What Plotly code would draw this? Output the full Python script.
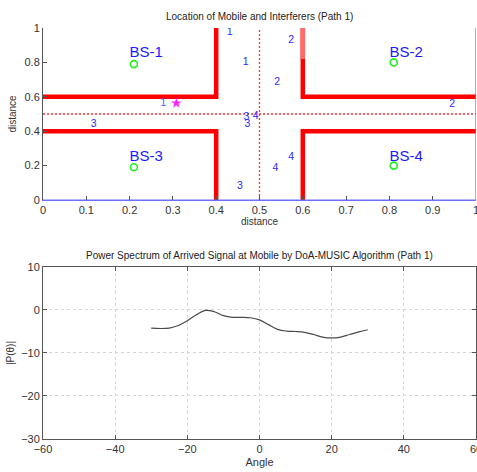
import plotly.graph_objects as go

# ---- Data: top plot (street layout) ----
wall_segments = [
    ([0, 0.4, 0.4], [0.6, 0.6, 1.0]),
    ([0, 0.4, 0.4], [0.4, 0.4, 0.0]),
    ([0.6, 0.6, 1.0], [1.0, 0.6, 0.6]),
    ([0.6, 0.6, 1.0], [0.0, 0.4, 0.4]),
]
faded_wall = ([0.6, 0.6], [0.82, 1.0])
center_x = 0.5
center_y = 0.5

bs_names = ["BS-1", "BS-2", "BS-3", "BS-4"]
bs_x = [0.21, 0.81, 0.21, 0.81]
bs_y = [0.79, 0.80, 0.19, 0.20]
bs_label_x = [0.20, 0.80, 0.20, 0.80]
bs_label_y = [0.855, 0.855, 0.25, 0.25]

mobile_x = [0.308]
mobile_y = [0.563]
mobile_label = ["1"]
mobile_label_x = [0.278]

intf_labels = ["1", "1", "2", "2", "2", "3", "3", "3", "4", "3", "4", "4"]
intf_x = [0.431, 0.468, 0.573, 0.541, 0.945, 0.117, 0.470, 0.472, 0.491, 0.455, 0.573, 0.537]
intf_y = [0.977, 0.800, 0.930, 0.686, 0.558, 0.442, 0.482, 0.440, 0.486, 0.081, 0.250, 0.186]

# ---- Data: bottom plot (MUSIC spectrum) ----
angles = [-30, -27.5, -25, -22.5, -20, -17.5, -15, -12.5, -10, -7.5, -5, -2.5,
          0, 2.5, 5, 7.5, 10, 12.5, 15, 17.5, 20, 22.5, 25, 27.5, 30]
power = [-4.2, -4.3, -4.2, -3.6, -2.5, -1.1, -0.1, -0.4, -1.3, -1.7, -1.7, -1.8,
         -2.3, -3.4, -4.5, -4.9, -5.0, -5.2, -5.7, -6.3, -6.5, -6.3, -5.7, -5.1, -4.6]

fig = go.Figure()

# walls
for wx, wy in wall_segments:
    fig.add_trace(go.Scatter(x=wx, y=wy, mode="lines", line=dict(color="#ff0000", width=4.5),
                             xaxis="x", yaxis="y", showlegend=False, hoverinfo="skip"))
fig.add_trace(go.Scatter(x=faded_wall[0], y=faded_wall[1], mode="lines",
                         line=dict(color="#ff6a6a", width=4.5), showlegend=False, hoverinfo="skip"))
# center dotted lines
fig.add_trace(go.Scatter(x=[center_x, center_x], y=[0, 1], mode="lines",
                         line=dict(color="#ff3030", width=1.3, dash="2px,2px"), showlegend=False))
fig.add_trace(go.Scatter(x=[0, 1], y=[center_y, center_y], mode="lines",
                         line=dict(color="#ff3030", width=1.3, dash="2px,2px"), showlegend=False))
# blue boundary lines
fig.add_trace(go.Scatter(x=[0, 1, 1], y=[0, 0, 1], mode="lines",
                         line=dict(color="#6f6fff", width=1.2), showlegend=False))
# base stations
fig.add_trace(go.Scatter(x=bs_x, y=bs_y, mode="markers",
                         marker=dict(symbol="circle-open", color="#22ee22", size=7, line=dict(width=1.6)),
                         showlegend=False))
fig.add_trace(go.Scatter(x=bs_label_x, y=bs_label_y, mode="text", text=bs_names,
                         textposition="middle right",
                         textfont=dict(color="#1a1aff", size=15, family="Liberation Sans, Arial"),
                         showlegend=False))
# mobile
fig.add_trace(go.Scatter(x=mobile_x, y=mobile_y, mode="markers",
                         marker=dict(symbol="star", color="#ff22ff", size=8), showlegend=False))
fig.add_trace(go.Scatter(x=mobile_label_x, y=mobile_y, mode="text", text=mobile_label,
                         textfont=dict(color="#5a5aff", size=11, family="Liberation Sans, Arial"),
                         showlegend=False))
# interferer labels
fig.add_trace(go.Scatter(x=intf_x, y=intf_y, mode="text", text=intf_labels,
                         textfont=dict(color="#2a2aff", size=10.5, family="Liberation Sans, Arial"),
                         showlegend=False))

# spectrum
fig.add_trace(go.Scatter(x=angles, y=power, mode="lines", line=dict(color="#4a4a4a", width=1.2, shape="spline"),
                         xaxis="x2", yaxis="y2", showlegend=False))

tickfont = dict(family="Liberation Sans, Arial", size=11, color="#333333")
titlefont = dict(family="Liberation Sans, Arial", size=10, color="#333333")

fig.update_layout(
    width=477, height=472,
    margin=dict(l=43, r=1, t=28, b=33, autoexpand=False),
    paper_bgcolor="white", plot_bgcolor="white",
    xaxis=dict(domain=[0, 1], range=[0, 1], tickvals=[0, 0.1, 0.2, 0.3, 0.4, 0.5, 0.6, 0.7, 0.8, 0.9, 1],
               ticktext=["0", "0.1", "0.2", "0.3", "0.4", "0.5", "0.6", "0.7", "0.8", "0.9", "1"],
               ticks="inside", ticklen=4, tickcolor="#555", showgrid=False, zeroline=False,
               showline=True, linecolor="#6f6fff", linewidth=1, tickfont=tickfont,
               ticklabeloverflow="allow", automargin=False,
               title=dict(text="distance", font=titlefont, standoff=2), anchor="y"),
    yaxis=dict(domain=[0.5815, 1.0], range=[0, 1], tickvals=[0, 0.2, 0.4, 0.6, 0.8, 1],
               ticktext=["0", "0.2", "0.4", "0.6", "0.8", "1"],
               ticks="inside", ticklen=4, tickcolor="#555", showgrid=False, zeroline=False,
               showline=True, linecolor="#555", linewidth=1, tickfont=tickfont,
               ticklabeloverflow="allow", automargin=False,
               title=dict(text="distance", font=titlefont, standoff=6), anchor="x"),
    xaxis2=dict(domain=[0, 1], range=[-60, 60], tickvals=[-60, -40, -20, 0, 20, 40, 60],
                ticks="inside", ticklen=4, tickcolor="#555", showgrid=True, gridcolor="#d4d4d4",
                griddash="dot", zeroline=False, showline=True, linecolor="#555", linewidth=1,
                mirror="ticks", tickfont=tickfont, ticklabeloverflow="allow", automargin=False,
                title=dict(text="Angle", font=dict(family="Liberation Sans, Arial", size=11, color="#333"), standoff=4),
                anchor="y2"),
    yaxis2=dict(domain=[0, 0.4185], range=[-30, 10], tickvals=[-30, -20, -10, 0, 10],
                ticks="inside", ticklen=4, tickcolor="#555", showgrid=True, gridcolor="#d4d4d4",
                griddash="dot", zeroline=False, showline=True, linecolor="#555", linewidth=1,
                mirror="ticks", tickfont=tickfont, ticklabeloverflow="allow", automargin=False,
                title=dict(text="|P(θ)|", font=titlefont, standoff=4), anchor="x2"),
    annotations=[
        dict(text="Location of Mobile and Interferers (Path 1)", x=0.5, y=1.0, xref="paper", yref="paper",
             xanchor="center", yanchor="bottom", yshift=4, showarrow=False,
             font=dict(family="Liberation Sans, Arial", size=10, color="#222")),
        dict(text="Power Spectrum of Arrived Signal at Mobile by DoA-MUSIC Algorithm (Path 1)", x=0.5, y=0.4185,
             xref="paper", yref="paper", xanchor="center", yanchor="bottom", yshift=4, showarrow=False,
             font=dict(family="Liberation Sans, Arial", size=10, color="#222")),
    ],
)

fig.write_html("out.html")
